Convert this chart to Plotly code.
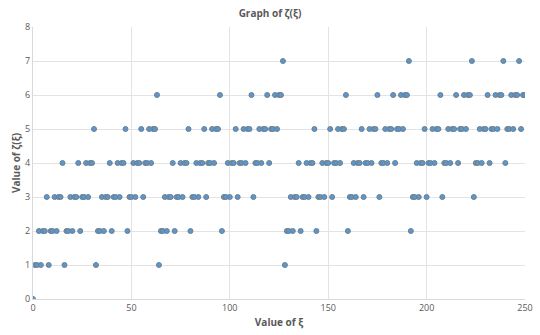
import plotly.graph_objects as go

# ξ runs over 0..250
xi = list(range(0, 251))

# ζ(ξ) values, listed block by block (16 values per row)
zeta = [
    0, 1, 1, 2, 1, 2, 2, 3, 1, 2, 2, 3, 2, 3, 3, 4,      # 0-15
    1, 2, 2, 3, 2, 3, 3, 4, 2, 3, 3, 4, 3, 4, 4, 5,      # 16-31
    1, 2, 2, 3, 2, 3, 3, 4, 2, 3, 3, 4, 3, 4, 4, 5,      # 32-47
    2, 3, 3, 4, 3, 4, 4, 5, 3, 4, 4, 5, 4, 5, 5, 6,      # 48-63
    1, 2, 2, 3, 2, 3, 3, 4, 2, 3, 3, 4, 3, 4, 4, 5,      # 64-79
    2, 3, 3, 4, 3, 4, 4, 5, 3, 4, 4, 5, 4, 5, 5, 6,      # 80-95
    2, 3, 3, 4, 3, 4, 4, 5, 3, 4, 4, 5, 4, 5, 5, 6,      # 96-111
    3, 4, 4, 5, 4, 5, 5, 6, 4, 5, 5, 6, 5, 6, 6, 7,      # 112-127
    1, 2, 2, 3, 2, 3, 3, 4, 2, 3, 3, 4, 3, 4, 4, 5,      # 128-143
    2, 3, 3, 4, 3, 4, 4, 5, 3, 4, 4, 5, 4, 5, 5, 6,      # 144-159
    2, 3, 3, 4, 3, 4, 4, 5, 3, 4, 4, 5, 4, 5, 5, 6,      # 160-175
    3, 4, 4, 5, 4, 5, 5, 6, 4, 5, 5, 6, 5, 6, 6, 7,      # 176-191
    2, 3, 3, 4, 3, 4, 4, 5, 3, 4, 4, 5, 4, 5, 5, 6,      # 192-207
    3, 4, 4, 5, 4, 5, 5, 6, 4, 5, 5, 6, 5, 6, 6, 7,      # 208-223
    3, 4, 4, 5, 4, 5, 5, 6, 4, 5, 5, 6, 5, 6, 6, 7,      # 224-239
    4, 5, 5, 6, 5, 6, 6, 7, 5, 6, 6,                     # 240-250
]

x_ticks = [0, 50, 100, 150, 200, 250]
y_ticks = [0, 1, 2, 3, 4, 5, 6, 7, 8]

FONT = "Open Sans, Segoe UI, sans-serif"
TEXT = "#595959"

fig = go.Figure(
    go.Scatter(
        x=xi,
        y=zeta,
        mode="markers",
        marker=dict(
            size=5,
            color="#5897d2",
            line=dict(color="#70808a", width=1),
        ),
        hoverinfo="x+y",
    )
)

fig.update_layout(
    width=540,
    height=335,
    margin=dict(l=33, r=15, t=27, b=36),
    paper_bgcolor="white",
    plot_bgcolor="white",
    showlegend=False,
    title=dict(
        text="<b>Graph of ζ(ξ)</b>",
        x=0.5,
        xanchor="center",
        y=0.97,
        yanchor="top",
        font=dict(family=FONT, size=10, color=TEXT),
    ),
    font=dict(family=FONT, size=9, color=TEXT),
)

fig.update_xaxes(
    range=[0, 250],
    tickvals=x_ticks,
    showgrid=True,
    gridcolor="#e3e3e3",
    gridwidth=1,
    zeroline=False,
    showline=True,
    linecolor="#d9d9d9",
    ticks="",
    automargin=False,
    tickfont=dict(size=9, color=TEXT),
    title=dict(text="<b>Value of ξ</b>", font=dict(size=10, color=TEXT), standoff=6),
)

fig.update_yaxes(
    range=[0, 8],
    tickvals=y_ticks,
    showgrid=True,
    gridcolor="#e3e3e3",
    gridwidth=1,
    zeroline=False,
    showline=True,
    linecolor="#d9d9d9",
    ticks="",
    automargin=False,
    tickfont=dict(size=9, color=TEXT),
    title=dict(text="<b>Value of ζ(ξ)</b>", font=dict(size=10, color=TEXT), standoff=2),
)

fig.write_html("out.html")
